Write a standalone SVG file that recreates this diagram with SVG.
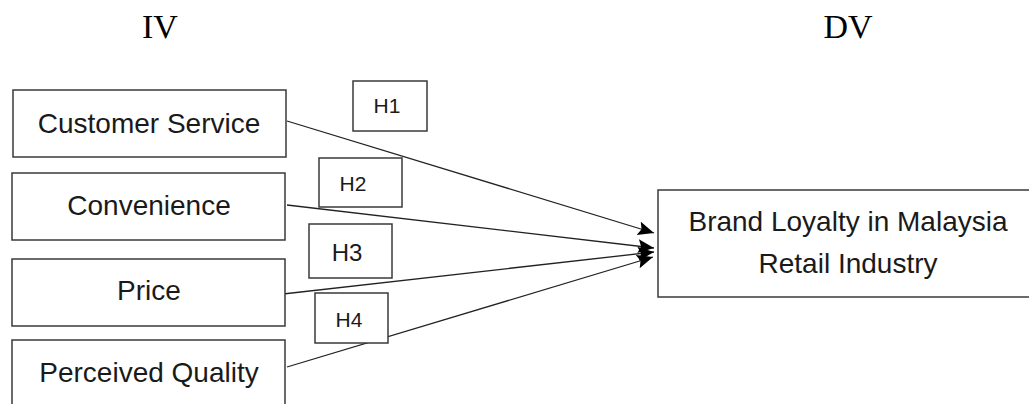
<svg xmlns="http://www.w3.org/2000/svg" width="1029" height="404" viewBox="0 0 1029 404">
<style>
.box{fill:#fff;stroke:#3a3a3a;stroke-width:1.5}
.lbl{font-family:"Liberation Sans",Arial,sans-serif;font-size:28px;fill:#1a1a1a;text-anchor:middle}
.h{font-family:"Liberation Sans",Arial,sans-serif;font-size:21px;fill:#1a1a1a;text-anchor:middle}
.hd{font-family:"Liberation Serif","Times New Roman",serif;font-size:34px;fill:#000;text-anchor:middle}
.conn{stroke:#222;stroke-width:1.3;fill:none;marker-end:url(#arr)}
</style>
<defs>
<marker id="arr" markerUnits="userSpaceOnUse" markerWidth="18" markerHeight="16" refX="16" refY="7" orient="auto">
<path d="M0,0 L16,7 L0,14 L3,7 z" fill="#000"/>
</marker>
</defs>
<rect width="1029" height="404" fill="#fff"/>
<text class="hd" x="160" y="38">IV</text>
<text class="hd" x="848" y="38">DV</text>
<g id="connectors">
<line class="conn" x1="287" y1="121" x2="654" y2="233"/>
<line class="conn" x1="287" y1="205" x2="654" y2="248"/>
<line class="conn" x1="283" y1="294" x2="654" y2="252"/>
<line class="conn" x1="287" y1="367" x2="653" y2="257"/>
</g>
<g id="n-customer-service"><rect class="box" x="13" y="90" width="273" height="67"/><text class="lbl" x="149" y="133">Customer Service</text></g>
<g id="n-convenience"><rect class="box" x="12" y="173" width="273" height="67"/><text class="lbl" x="149" y="215">Convenience</text></g>
<g id="n-price"><rect class="box" x="12" y="259" width="273" height="67"/><text class="lbl" x="149" y="300">Price</text></g>
<g id="n-perceived-quality"><rect class="box" x="12" y="340" width="273" height="80"/><text class="lbl" x="149" y="382">Perceived Quality</text></g>
<g id="n-h1"><rect class="box" x="353" y="81" width="74" height="50"/><text class="h" x="387" y="113">H1</text></g>
<g id="n-h2"><rect class="box" x="319" y="158" width="83" height="49"/><text class="h" x="353" y="191">H2</text></g>
<g id="n-h3"><rect class="box" x="309" y="224" width="83" height="54"/><text class="h" x="347" y="261" style="font-size:24px">H3</text></g>
<g id="n-h4"><rect class="box" x="315" y="293" width="73" height="50"/><text class="h" x="349" y="327">H4</text></g>
<g id="n-brand-loyalty"><rect class="box" x="658" y="190" width="390" height="107"/><text class="lbl" x="848" y="231">Brand Loyalty in Malaysia</text><text class="lbl" x="848" y="273">Retail Industry</text></g>
</svg>
